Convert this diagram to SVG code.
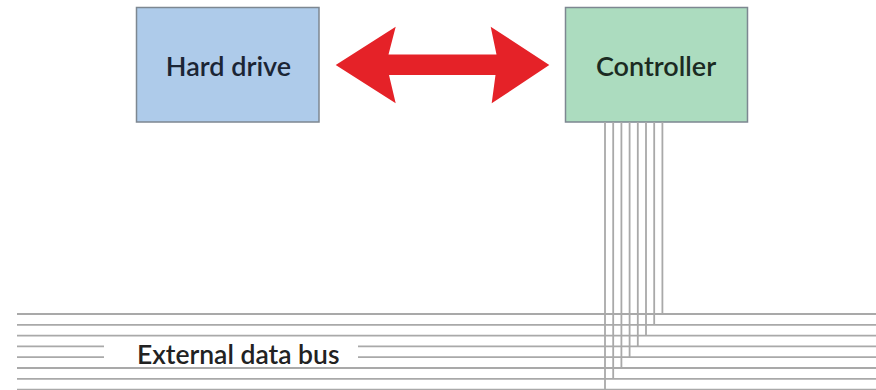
<svg xmlns="http://www.w3.org/2000/svg" width="876" height="390" viewBox="0 0 876 390">
<style>
.box{stroke:#7d8791;stroke-width:1.5}
.lbl{font-family:Lato,"Open Sans","Liberation Sans",sans-serif;font-size:27px;font-weight:600;text-anchor:middle}
.w{fill:none;stroke:#a9a9a9;stroke-width:1.8}
</style>
<rect width="876" height="390" fill="#ffffff"/>
<g id="hard-drive">
<rect class="box" x="136.5" y="7.5" width="182.5" height="114.5" fill="#aecbea"/>
<text class="lbl" x="228.5" y="76" fill="#1b2535">Hard drive</text>
</g>
<g id="controller">
<rect class="box" x="565.5" y="7.5" width="182" height="114.5" fill="#acdcbf"/>
<text class="lbl" x="656" y="76" fill="#1b2a22">Controller</text>
</g>
<g id="connectors">
<path d="M335.7 65 L395.7 26.7 L388.5 54.5 L496.5 54.5 L490.7 26.7 L549.3 65 L491.7 103.3 L495.5 75 L389 75 L395.7 103.3 Z" fill="#e52228"/>
<g id="bus">
<path class="w" d="M17 314H876M17 324.8H876M17 335.6H876M17 346.4H104M358 346.4H876M17 357.2H104M358 357.2H876M17 368H876M17 378.8H876M17 389.6H876"/>
<path class="w" d="M662.4 122V314M654.2 122V324.8M646 122V335.6M637.8 122V346.4M629.6 122V357.2M621.4 122V368M613.2 122V378.8M605 122V390"/>
<text x="137" y="363.5" style="font-family:Lato,'Open Sans','Liberation Sans',sans-serif;font-size:26.5px;font-weight:600" fill="#222222">External data bus</text>
</g>
</g>
</svg>
